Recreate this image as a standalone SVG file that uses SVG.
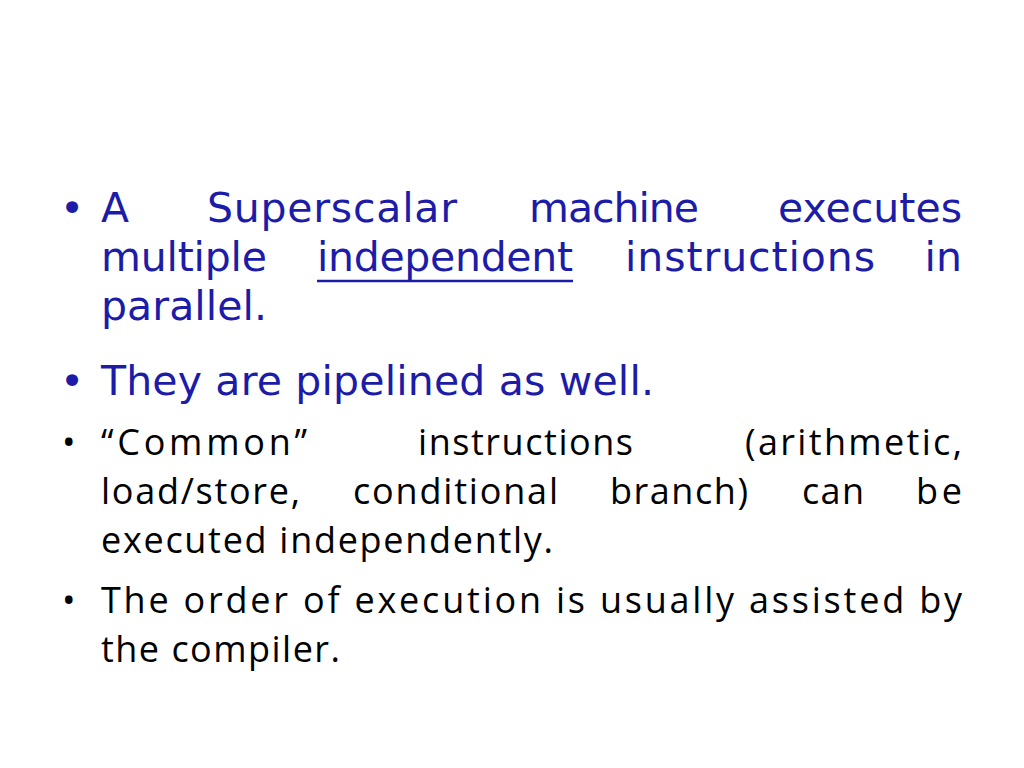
<svg xmlns="http://www.w3.org/2000/svg" width="1024" height="768" viewBox="0 0 1024 768">
<style>
.b{font-family:"DejaVu Sans",sans-serif;font-size:41px;fill:#1c1ca8}
.k{font-family:"Open Sans","Liberation Sans",sans-serif;font-size:36px;fill:#000}
.e{text-anchor:end}
</style>
<rect width="1024" height="768" fill="#fff"/>
<g id="bullet1">
<text class="b" x="60" y="222">•</text>
<text class="b" x="101" y="222">A</text>
<text class="b" x="207" y="222" textLength="250">Superscalar</text>
<text class="b" x="529" y="222" textLength="170">machine</text>
<text class="b e" x="962" y="222">executes</text>
<text class="b" x="101" y="271" textLength="166">multiple</text>
<text class="b" x="317" y="271" textLength="256">independent</text>
<line x1="317" y1="281" x2="573" y2="281" stroke="#1c1ca8" stroke-width="2.5"/>
<text class="b" x="625" y="271" textLength="250">instructions</text>
<text class="b e" x="962" y="271">in</text>
<text class="b" x="101" y="320" textLength="166">parallel.</text>
</g>
<g id="bullet2">
<text class="b" x="60" y="395">•</text>
<text class="b" x="101" y="395" textLength="553">They are pipelined as well.</text>
</g>
<g id="bullet3">
<text class="k" x="62" y="455">•</text>
<text class="k" x="101" y="455" textLength="206">“Common”</text>
<text class="k" x="418" y="455" textLength="215">instructions</text>
<text class="k" x="745" y="455" textLength="217">(arithmetic,</text>
<text class="k" x="101" y="504" textLength="199">load/store,</text>
<text class="k" x="353" y="504" textLength="205">conditional</text>
<text class="k" x="610" y="504" textLength="138">branch)</text>
<text class="k" x="802" y="504" textLength="62">can</text>
<text class="k" x="916" y="504" textLength="46">be</text>
<text class="k" x="101" y="553" textLength="452">executed independently.</text>
</g>
<g id="bullet4">
<text class="k" x="62" y="613">•</text>
<text class="k" x="101" y="613" textLength="861">The order of execution is usually assisted by</text>
<text class="k" x="101" y="662" textLength="239">the compiler.</text>
</g>
</svg>
